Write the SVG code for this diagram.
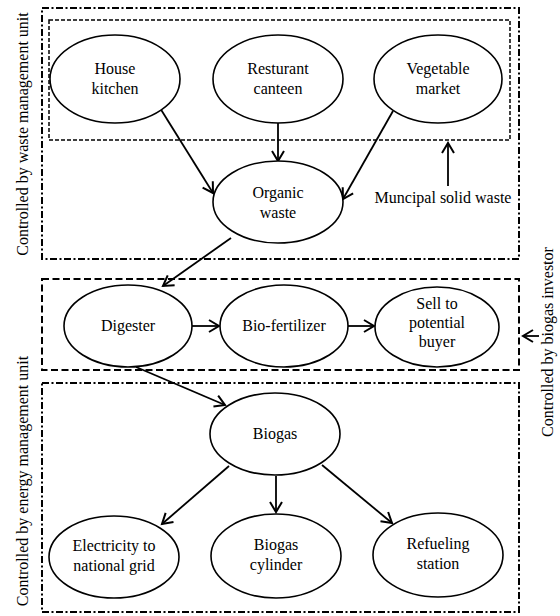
<svg xmlns="http://www.w3.org/2000/svg" width="560" height="616" viewBox="0 0 560 616">
<style>
text{font-family:"Liberation Serif","Times New Roman",serif;font-size:16px;fill:#000}
.c{text-anchor:middle}
.n{fill:#fff;stroke:#000;stroke-width:1.6}
.dd{fill:none;stroke:#000;stroke-width:2;stroke-dasharray:7 2.5 2 2.5}
.da{fill:none;stroke:#000;stroke-width:2;stroke-dasharray:7 3.5}
.ds{fill:none;stroke:#000;stroke-width:1.5;stroke-dasharray:4 2}
.e{fill:none;stroke:#000;stroke-width:1.8;marker-end:url(#ah)}
</style>
<defs>
<marker id="ah" markerUnits="userSpaceOnUse" markerWidth="14" markerHeight="14" viewBox="-12 -7 14 14" refX="0" refY="0" orient="auto" overflow="visible">
<path d="M-10,-6 L0,0 L-10,6" fill="none" stroke="#000" stroke-width="2"/>
</marker>
</defs>
<g id="regions">
<rect class="dd" x="42" y="8" width="477" height="251"/>
<rect class="ds" x="49" y="20" width="461" height="120"/>
<rect class="da" x="42" y="279" width="477" height="91"/>
<rect class="dd" x="42" y="383" width="477" height="229"/>
</g>
<g id="labels">
<text class="c" transform="translate(28,134) rotate(-90)">Controlled by waste management unit</text>
<text class="c" transform="translate(28,481) rotate(-90)">Controlled by energy management unit</text>
<text class="c" transform="translate(553,342) rotate(-90)">Controlled by biogas investor</text>
<text class="c" x="443" y="203">Muncipal solid waste</text>
</g>
<g id="connectors">
<line class="e" x1="160" y1="108" x2="213" y2="193"/>
<line class="e" x1="278" y1="123" x2="278" y2="161"/>
<line class="e" x1="393" y1="111" x2="343" y2="199"/>
<line class="e" x1="448" y1="186" x2="448" y2="143"/>
<line class="e" x1="231" y1="238" x2="163" y2="286"/>
<line class="e" x1="192" y1="326" x2="219" y2="326"/>
<line class="e" x1="348" y1="326" x2="374" y2="326"/>
<line class="e" x1="539" y1="336" x2="523" y2="336"/>
<line class="e" x1="136" y1="367" x2="225" y2="405"/>
<line class="e" x1="229" y1="466" x2="162" y2="524"/>
<line class="e" x1="276" y1="476" x2="276" y2="512"/>
<line class="e" x1="322" y1="465" x2="392" y2="523"/>
</g>
<g id="house-kitchen"><ellipse class="n" cx="115" cy="79" rx="65" ry="44"/><text class="c" x="115" y="74">House</text><text class="c" x="115" y="94">kitchen</text></g>
<g id="resturant-canteen"><ellipse class="n" cx="278" cy="79" rx="65" ry="44"/><text class="c" x="278" y="74">Resturant</text><text class="c" x="278" y="94">canteen</text></g>
<g id="vegetable-market"><ellipse class="n" cx="438" cy="79" rx="64" ry="44"/><text class="c" x="438" y="74">Vegetable</text><text class="c" x="438" y="94">market</text></g>
<g id="organic-waste"><ellipse class="n" cx="278" cy="202" rx="65" ry="41"/><text class="c" x="278" y="198">Organic</text><text class="c" x="278" y="218">waste</text></g>
<g id="digester"><ellipse class="n" cx="128" cy="326" rx="64" ry="41"/><text class="c" x="128" y="331">Digester</text></g>
<g id="bio-fertilizer"><ellipse class="n" cx="284" cy="326" rx="64" ry="41"/><text class="c" x="284" y="331">Bio-fertilizer</text></g>
<g id="sell"><ellipse class="n" cx="437" cy="327" rx="62" ry="40"/><text class="c" x="437" y="309">Sell to</text><text class="c" x="437" y="328">potential</text><text class="c" x="437" y="347">buyer</text></g>
<g id="biogas"><ellipse class="n" cx="275" cy="434" rx="65" ry="41"/><text class="c" x="275" y="439">Biogas</text></g>
<g id="electricity"><ellipse class="n" cx="114" cy="557" rx="65" ry="41"/><text class="c" x="114" y="551">Electricity to</text><text class="c" x="114" y="571">national grid</text></g>
<g id="cylinder"><ellipse class="n" cx="276" cy="556" rx="65" ry="42"/><text class="c" x="276" y="550">Biogas</text><text class="c" x="276" y="570">cylinder</text></g>
<g id="refueling"><ellipse class="n" cx="438" cy="555" rx="65" ry="42"/><text class="c" x="438" y="549">Refueling</text><text class="c" x="438" y="569">station</text></g>
</svg>
